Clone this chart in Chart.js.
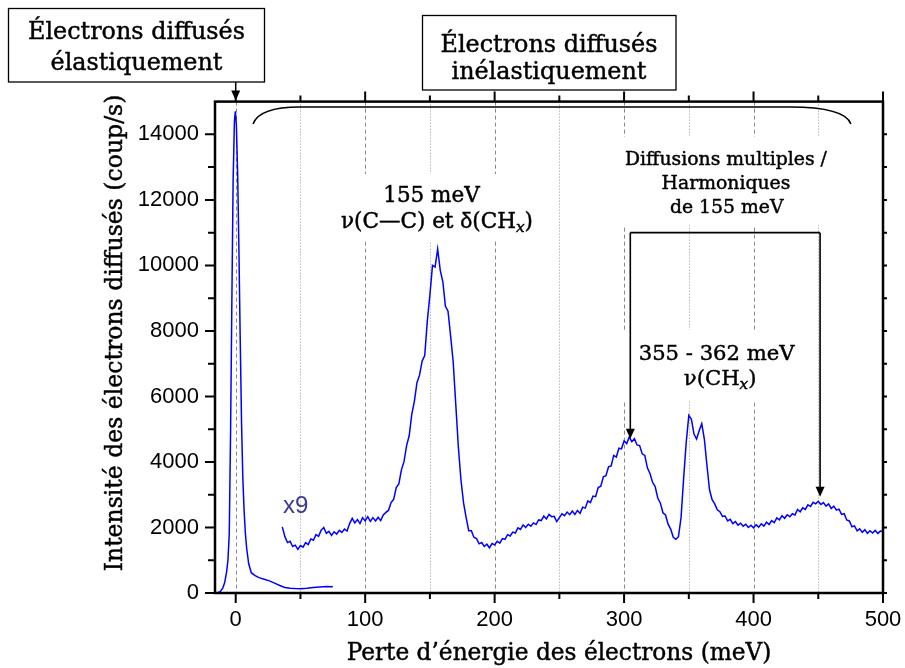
<!DOCTYPE html>
<html><head><meta charset="utf-8">
<script src="https://cdn.jsdelivr.net/npm/chart.js@4/dist/chart.umd.min.js"></script>
<style>html,body{margin:0;padding:0;background:#fff;}canvas{display:block;}</style>
</head><body>
<canvas id="c" width="905" height="668"></canvas>
<script>
// ---------- DATA ----------
const elasticEnergy = [-16,-14,-12,-10,-8.5,-7,-6,-5,-4,-3,-2,-1,-0.3,0.5,1.5,2.5,3.5,4.5,5.5,6.5,7.5,8.5,10,12,15,18,22,26,30,34,38,42,46,50,55,60,65,70,75];
const elasticIntensity = [0,10,40,150,320,650,1000,1800,4800,8800,12600,14400,14700,14300,12800,10400,7700,5200,3500,2500,1800,1350,900,620,530,470,420,370,300,230,170,145,135,130,145,170,185,195,190];

// inelastic part (multiplied by 9), energies from 36 meV every 2 meV
const inelasticStart = 36;
const inelasticStep = 2;
const inelasticIntensity = [
 2020,1720,1540,1580,1420,1460,1330,1450,1400,1540, // 36-54
 1480,1650,1610,1780,1730,1920,2000,1820,1880,1760, // 56-74
 1870,1800,1910,1850,1950,1890,2120,2280,2140,2240, // 76-94
 2120,2300,2200,2330,2190,2300,2200,2310,2210,2380, // 96-114
 2460,2520,2760,2860,3220,3330,3760,4010,4500,4800, // 116-134
 5450,5850,6420,6650,7080,7250,8300,9100,10000,9950, // 136-154
 10500,9850,9500,8750,8600,7850,7050,5750,4450,3450, // 156-174
 2750,2300,1900,1900,1700,1660,1500,1540,1420,1490, // 176-194
 1380,1510,1470,1580,1520,1660,1640,1780,1740,1860, // 196-214
 1830,1990,1940,2080,2000,2100,2040,2140,2090,2230, // 216-234
 2210,2350,2260,2400,2330,2340,2180,2300,2420,2360, // 236-254
 2470,2390,2500,2400,2520,2430,2620,2590,2810,2760, // 256-274
 2960,2940,3220,3260,3550,3580,3850,3880,4200,4150, // 276-294
 4420,4400,4640,4560,4760,4620,4710,4520,4500,4250, // 296-314
 4200,3820,3650,3380,3250,2900,2750,2450,2380,2100, // 316-334
 1950,1700,1640,1720,2300,3500,4600,5420,5300,4850, // 336-354
 4700,4950,5170,4700,3900,3150,2850,2720,2540,2480, // 356-374
 2340,2350,2200,2250,2120,2180,2070,2130,2040,2100, // 376-394
 2000,2070,1990,2080,2010,2110,2040,2160,2090,2210, // 396-414
 2150,2290,2230,2360,2280,2390,2330,2420,2380,2550, // 416-434
 2480,2600,2550,2690,2640,2770,2720,2800,2700,2760, // 436-454
 2650,2720,2580,2650,2530,2560,2400,2420,2230,2200, // 456-474
 2020,2050,1900,1960,1850,1930,1820,1900,1830,1910, // 476-494
 1820,1890,1880                                      // 496-500
];

const xTickValues = [0,100,200,300,400,500];
const xMinorTicks = [50,150,250,350,450];
const yTickValues = [0,2000,4000,6000,8000,10000,12000,14000];
const yMinorTicks = [1000,3000,5000,7000,9000,11000,13000];
const gridEnergies = [0,50,100,150,200,250,300,350,400,450];

const xTitle = "Perte d’énergie des électrons (meV)";
const yTitle = "Intensité des électrons diffusés (coup/s)";
const boxElastic = ["Électrons diffusés", "élastiquement"];
const boxInelastic = ["Électrons diffusés", "inélastiquement"];
const label155 = "155 meV";
const labelMulti = ["Diffusions multiples /", "Harmoniques", "de 155 meV"];
const label355 = "355 - 362 meV";
const scaleLabel = "x9";

// ---------- CHART ----------
const SERIF = '"DejaVu Serif","Liberation Serif",serif';
const SANS = '"Liberation Sans",Arial,sans-serif';
Chart.defaults.font.family = SANS;
Chart.defaults.color = '#000';

const elasticData = elasticEnergy.map((e,i)=>({x:e, y:elasticIntensity[i]}));
const inelasticData = inelasticIntensity.map((v,i)=>({x:inelasticStart + i*inelasticStep, y:v}));

const labelCC = [{t:'ν(C—C) et '},{t:'δ',f:SANS},{t:'(CH'},{t:'x',it:true,sub:true},{t:')'}];
const labelCH = [{t:'ν(CH'},{t:'x',it:true,sub:true},{t:')'}];

function pfont(p, size){ return (p.it?'italic ':'') + (size*(p.sub?0.72:1)) + 'px ' + (p.f || SERIF); }
function richWidth(ctx, parts, size){
  let w = 0;
  for (const p of parts){ ctx.font = pfont(p, size); w += ctx.measureText(p.t).width; }
  return w;
}
function fitRich(ctx, parts, target){ return 100 * target / richWidth(ctx, parts, 100); }
function drawRich(ctx, parts, cx, by, size){
  const w = richWidth(ctx, parts, size);
  let x = cx - w/2;
  ctx.textAlign = 'left'; ctx.textBaseline = 'alphabetic';
  ctx.lineWidth = 0.45; ctx.lineJoin = 'round';
  for (const p of parts){
    ctx.font = pfont(p, size);
    const yy = by + (p.sub ? size*0.2 : 0);
    ctx.fillText(p.t, x, yy);
    ctx.strokeText(p.t, x, yy);
    x += ctx.measureText(p.t).width;
  }
}
function arrowDown(ctx, x, y0, y1, hw, hl){
  ctx.beginPath(); ctx.moveTo(x, y0); ctx.lineTo(x, y1 - hl + 1); ctx.stroke();
  ctx.beginPath(); ctx.moveTo(x - hw, y1 - hl); ctx.lineTo(x + hw, y1 - hl); ctx.lineTo(x, y1); ctx.closePath(); ctx.fill();
}

const annot = {
  id: 'annot',
  beforeDatasetsDraw(chart){
    const {ctx, chartArea:a, scales:{x, y}} = chart;
    ctx.save();
    ctx.lineWidth = 1;
    for (const e of gridEnergies){
      const px = Math.round(x.getPixelForValue(e)) + 0.5;
      const major = e % 100 === 0;
      ctx.strokeStyle = major ? '#888' : '#999';
      ctx.setLineDash(major ? [4,3] : [1,2]);
      ctx.beginPath(); ctx.moveTo(px, a.top); ctx.lineTo(px, a.bottom); ctx.stroke();
    }
    ctx.setLineDash([]);
    // white backgrounds behind the in-plot labels
    ctx.fillStyle = '#fff';
    const masks = [[72.8,12790,239.8,10745],[292.2,13919,463.6,11233],[295.3,8028,442.1,5891]];
    for (const m of masks){
      const x0 = x.getPixelForValue(m[0]), y0 = y.getPixelForValue(m[1]);
      const x1 = x.getPixelForValue(m[2]), y1 = y.getPixelForValue(m[3]);
      ctx.fillRect(x0, y0, x1-x0, y1-y0);
    }
    ctx.restore();
  },
  afterDraw(chart){
    const {ctx, chartArea:a, scales:{x, y}} = chart;
    const X = v => x.getPixelForValue(v), Y = v => y.getPixelForValue(v);
    ctx.save();
    // frame
    ctx.strokeStyle = '#000'; ctx.lineWidth = 2.5;
    ctx.strokeRect(a.left, a.top, a.right - a.left, a.bottom - a.top);
    // ticks
    ctx.lineWidth = 2;
    ctx.beginPath();
    for (const v of xTickValues){ const p = X(v); ctx.moveTo(p, a.bottom); ctx.lineTo(p, a.bottom + 10); ctx.moveTo(p, a.top); ctx.lineTo(p, a.top - 10); }
    for (const v of xMinorTicks){ const p = X(v); ctx.moveTo(p, a.bottom); ctx.lineTo(p, a.bottom + 6); ctx.moveTo(p, a.top); ctx.lineTo(p, a.top - 6); }
    for (const v of yTickValues){ const p = Y(v); ctx.moveTo(a.left, p); ctx.lineTo(a.left - 10, p); ctx.moveTo(a.right, p); ctx.lineTo(a.right + 4, p); }
    for (const v of yMinorTicks){ const p = Y(v); ctx.moveTo(a.left, p); ctx.lineTo(a.left - 7, p); ctx.moveTo(a.right, p); ctx.lineTo(a.right + 4, p); }
    ctx.stroke();

    ctx.fillStyle = '#000'; ctx.strokeStyle = '#000';
    // boxes above plot
    ctx.lineWidth = 1.3;
    ctx.strokeRect(8.5, 8.5, 256, 73.5);
    ctx.strokeRect(422.5, 15.5, 253.5, 74.5);
    const sBox = fitRich(ctx, [{t:boxElastic[0]}], 217);
    drawRich(ctx, [{t:boxElastic[0]}], 136.5, 39, sBox);
    drawRich(ctx, [{t:boxElastic[1]}], 136.5, 70, sBox);
    drawRich(ctx, [{t:boxInelastic[0]}], 549, 52, sBox);
    drawRich(ctx, [{t:boxInelastic[1]}], 549, 79, sBox);
    // elastic arrow
    ctx.lineWidth = 1.5;
    arrowDown(ctx, X(0), 82, a.top - 1, 4.5, 10);
    // brace
    ctx.lineWidth = 1.5;
    ctx.beginPath();
    ctx.moveTo(X(13.4), Y(14316));
    ctx.quadraticCurveTo(X(18), Y(14835), X(49.6), Y(14835));
    ctx.lineTo(X(428), Y(14835));
    ctx.quadraticCurveTo(X(470.5), Y(14835), X(475.2), Y(14316));
    ctx.stroke();
    // multiple scattering bracket
    ctx.lineWidth = 1.6;
    ctx.beginPath();
    ctx.moveTo(X(304.8), Y(11000)); ctx.lineTo(X(451.4), Y(11000));
    ctx.stroke();
    arrowDown(ctx, X(304.8), Y(11000), Y(4711), 4.5, 10);
    arrowDown(ctx, X(451.4), Y(11000), Y(2940), 4.5, 10);

    // in-plot labels
    const sA = 0.5 * (fitRich(ctx, [{t:label155}], 87) + fitRich(ctx, labelCC, 211));
    drawRich(ctx, [{t:label155}], X(151.2), Y(11944), sA);
    drawRich(ctx, labelCC, X(155.5), Y(11142), sA);
    const sB = fitRich(ctx, [{t:labelMulti[0]}], 202);
    drawRich(ctx, [{t:labelMulti[0]}], X(378.7), Y(13065), sB);
    drawRich(ctx, [{t:labelMulti[1]}], X(378.7), Y(12323), sB);
    drawRich(ctx, [{t:labelMulti[2]}], X(379.3), Y(11590), sB);
    const sC = 0.5 * (fitRich(ctx, [{t:label355}], 153) + fitRich(ctx, labelCH, 74));
    drawRich(ctx, [{t:label355}], X(371.5), Y(7112), sC);
    drawRich(ctx, labelCH, X(374.2), Y(6349), sC);
    // x9
    ctx.fillStyle = '#3c3c98';
    ctx.font = '24px ' + SANS; ctx.textAlign = 'left'; ctx.textBaseline = 'alphabetic';
    ctx.fillText(scaleLabel, X(36.5), Y(2442));
    // axis titles
    ctx.fillStyle = '#000'; ctx.strokeStyle = '#000';
    drawRich(ctx, [{t:xTitle}], 559, 660, fitRich(ctx, [{t:xTitle}], 425));
    ctx.save();
    ctx.translate(122, 333); ctx.rotate(-Math.PI/2);
    drawRich(ctx, [{t:yTitle}], 0, 0, fitRich(ctx, [{t:yTitle}], 477));
    ctx.restore();
    ctx.restore();
  }
};

new Chart(document.getElementById('c'), {
  type: 'scatter',
  data: { datasets: [
    { data: elasticData, showLine: true, borderColor: '#0000ff', borderWidth: 1.5, pointRadius: 0, tension: 0 },
    { data: inelasticData, showLine: true, borderColor: '#0000ff', borderWidth: 1.5, pointRadius: 0, tension: 0 }
  ]},
  options: {
    responsive: false, animation: false, devicePixelRatio: 1,
    layout: { padding: { top: 101.6, right: 22, left: 0, bottom: 0 } },
    plugins: { legend: { display: false }, tooltip: { enabled: false } },
    scales: {
      x: {
        type: 'linear', min: -16, max: 500,
        grid: { display: false, drawTicks: false }, border: { display: false },
        afterBuildTicks: s => { s.ticks = xTickValues.map(v => ({value: v})); },
        ticks: { autoSkip: false, maxRotation: 0, padding: 14, font: { size: 22 }, color: '#000', callback: v => String(v) },
        afterFit: s => { s.height = 75; s.paddingLeft = 0; s.paddingRight = 0; }
      },
      y: {
        type: 'linear', min: 0, max: 15000,
        grid: { display: false, drawTicks: false }, border: { display: false },
        afterBuildTicks: s => { s.ticks = yTickValues.map(v => ({value: v})); },
        ticks: { autoSkip: false, padding: 16, font: { size: 22 }, color: '#000', callback: v => String(v) },
        afterFit: s => { s.width = 215; s.paddingTop = 0; s.paddingBottom = 0; }
      }
    }
  },
  plugins: [annot]
});
</script>
</body></html>
